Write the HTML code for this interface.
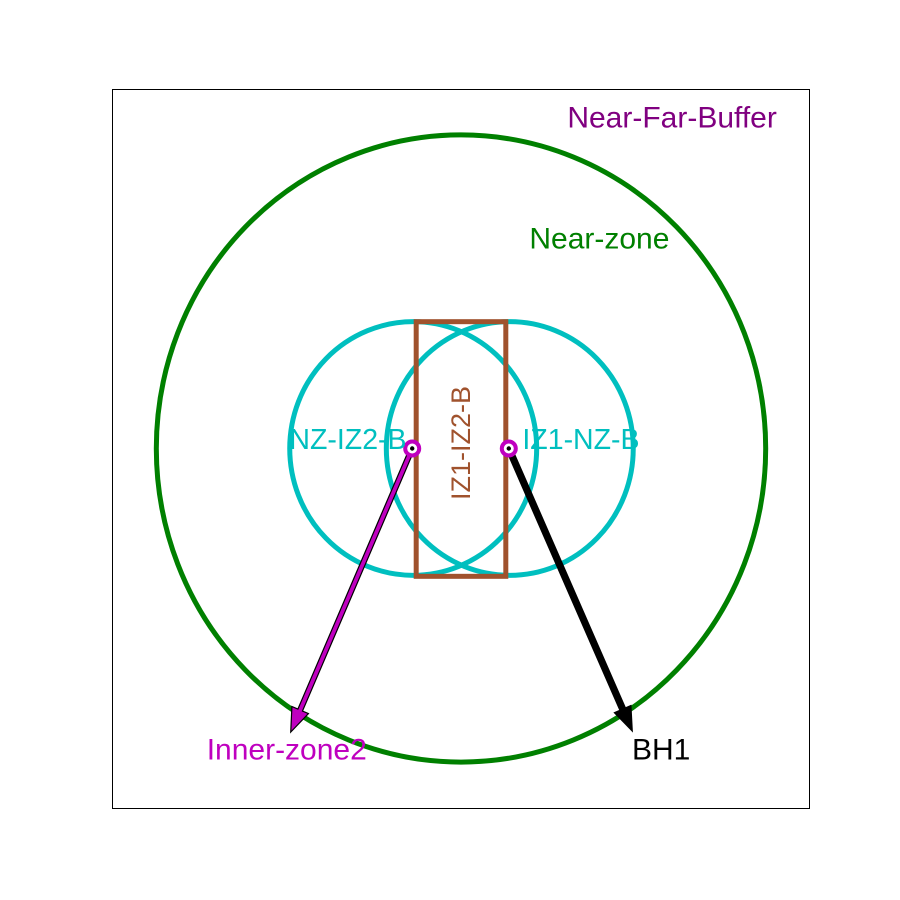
<!DOCTYPE html>
<html><head><meta charset="utf-8"><style>
html,body{margin:0;padding:0;background:#fff;}
svg{display:block;font-family:"Liberation Sans",sans-serif;}
</style></head><body>
<svg id="chart" width="900" height="900">
<rect x="112.5" y="89.5" width="697" height="719" fill="none" stroke="#000" stroke-width="1"/>
<g id="marks"></g>
</svg>
<script>
// data units: x in [-3.5,3.5], y in [-3.6,3.6]
const circleNames = ['near-zone-circle','nz-iz2-b-circle','iz1-nz-b-circle'];
const circleCx = [0, -0.48, 0.49];
const circleCy = [0, 0, 0];
const circleRx = [3.06, 1.24, 1.24];
const circleRy = [3.14, 1.27, 1.27];
const circleColors = ['#008000','#00bfbf','#00bfbf'];
const rectX = [-0.45, 0.45];
const rectY = [-1.28, 1.27];
const pointX = [-0.49, 0.48];
const pointY = [0, 0];
const arrowFromX = [-0.49, 0.48];
const arrowFromY = [0, 0];
const arrowToX = [-1.71, 1.72];
const arrowToY = [-2.84, -2.83];
const labels = ['Near-Far-Buffer','Near-zone','NZ-IZ2-B','IZ1-NZ-B','Inner-zone2','BH1'];
const labelX = [2.12, 1.39, -1.135, 1.205, -1.75, 2.01];
const labelY = [3.31, 2.1, 0.085, 0.085, -3.02, -3.02];
const labelSizes = [30, 30, 28.5, 28.5, 30, 30];
const labelColors = ['#800080','#008000','#00bfbf','#00bfbf','#bf00bf','#000'];

const X0=112.5,X1=809.5,Y0=89,Y1=808;
const sx=v=>X0+(v+3.5)/7*(X1-X0);
const sy=v=>Y1-(v+3.6)/7.2*(Y1-Y0);
const kx=v=>v/7*(X1-X0), ky=v=>v/7.2*(Y1-Y0);
const g=document.getElementById('marks');
const NS='http://www.w3.org/2000/svg';
function mk(t,a){const e=document.createElementNS(NS,t);for(const k in a)e.setAttribute(k,a[k]);g.appendChild(e);return e;}
circleNames.forEach((n,i)=>{
 const e=mk('ellipse',{cx:sx(circleCx[i]),cy:sy(circleCy[i]),rx:kx(circleRx[i]),ry:ky(circleRy[i]),fill:'none',stroke:circleColors[i],'stroke-width':5});
 
 
});
const r=mk('rect',{x:sx(rectX[0]),y:sy(rectY[1]),width:sx(rectX[1])-sx(rectX[0]),height:sy(rectY[0])-sy(rectY[1]),fill:'none',stroke:'#a0522d','stroke-width':5});


const rt=mk('text',{x:0,y:0,fill:'#a0522d','font-size':27,'text-anchor':'middle','dominant-baseline':'central',transform:`translate(${sx((rectX[0]+rectX[1])/2)},${sy(0.055)}) rotate(-90)`});
rt.textContent='IZ1-IZ2-B';


const arrowStyles=[{fill:'#bf00bf',w:5,hw:18,hl:24,name:'inner-zone2-arrow'},{fill:'#000',w:6,hw:18,hl:24,name:'bh1-arrow'}];
arrowFromX.forEach((_,i)=>{
 const x1=sx(arrowFromX[i]),y1=sy(arrowFromY[i]),x2=sx(arrowToX[i]),y2=sy(arrowToY[i]);
 const dx=x2-x1,dy=y2-y1,L=Math.hypot(dx,dy),ux=dx/L,uy=dy/L,px=-uy,py=ux;
 const s=arrowStyles[i],bx=x2-ux*s.hl,by=y2-uy*s.hl,w=s.w/2,h=s.hw/2;
 const pts=[[x1+px*w,y1+py*w],[bx+px*w,by+py*w],[bx+px*h,by+py*h],[x2,y2],[bx-px*h,by-py*h],[bx-px*w,by-py*w],[x1-px*w,y1-py*w]];
 const e=mk('polygon',{points:pts.map(p=>p.join(',')).join(' '),fill:s.fill,stroke:'#000','stroke-width':1.2,'stroke-linejoin':'miter'});
 
 
});
pointX.forEach((_,i)=>{
 const c=mk('circle',{cx:sx(pointX[i]),cy:sy(pointY[i]),r:7,fill:'#fff',stroke:'#bf00bf','stroke-width':4});
 
 
 const d=mk('circle',{cx:sx(pointX[i]),cy:sy(pointY[i]),r:2.2,fill:'#000'});
 
 
});
labels.forEach((t,i)=>{
 const e=mk('text',{x:sx(labelX[i]),y:sy(labelY[i]),fill:labelColors[i],'font-size':labelSizes[i],'text-anchor':'middle','dominant-baseline':'central'});
 e.textContent=t;
 
 
});
</script>
</body></html>
